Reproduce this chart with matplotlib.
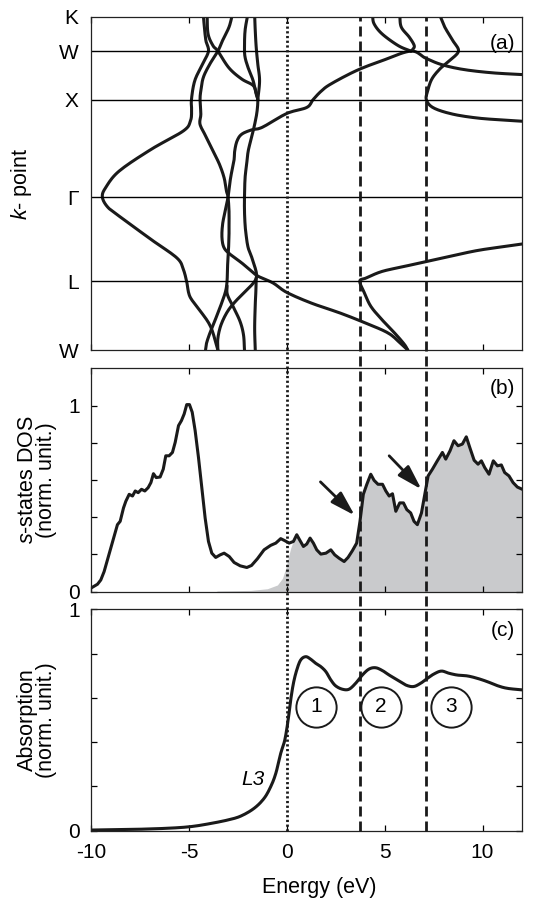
import numpy as np
import matplotlib
matplotlib.use('Agg')
import matplotlib.pyplot as plt
from matplotlib.lines import Line2D
from matplotlib import transforms

plt.rcParams['font.family'] = ['Liberation Sans', 'DejaVu Sans']
plt.rcParams['mathtext.fontset'] = 'custom'
plt.rcParams['mathtext.rm'] = 'Liberation Sans'
plt.rcParams['mathtext.it'] = 'Liberation Sans:italic'

# ---------------- data ----------------
kpt_pos = [0.0, 0.707, 1.573, 2.573, 3.073, 3.427]
kpt_labels = ['W', 'L', '\u0393', 'X', 'W', 'K']

# band strokes (energy in eV, k along path W-L-G-X-W-K)
band1_k = [0.0, 0.24, 0.413, 0.55, 0.70, 0.826, 0.946, 1.135, 1.376, 1.47, 1.573, 1.67, 1.84,
           2.064, 2.253, 2.356, 2.46, 2.573, 2.769, 2.94, 3.073, 3.18, 3.32, 3.44]
band1_e = [-3.52, -3.89, -4.46, -4.95, -5.11, -5.28, -5.61, -6.92, -8.56, -9.15, -9.42, -9.25, -8.56,
           -6.92, -5.28, -4.92, -4.86, -4.87, -4.70, -4.30, -4.00, -4.13, -4.21, -4.26]

band2_k = [0.0, 0.069, 0.172, 0.292, 0.464, 0.60, 0.707, 0.843, 1.014, 1.187, 1.29, 1.427, 1.573,
           1.634, 1.77, 1.91, 2.046, 2.185, 2.32, 2.425, 2.573, 2.666, 2.804, 2.94, 3.073, 3.182, 3.32, 3.44]
band2_e = [-4.15, -4.10, -3.93, -3.69, -3.36, -3.13, -3.05, -3.03, -2.98, -2.95, -2.95, -2.95, -3.0,
           -3.08, -3.20, -3.44, -3.77, -4.10, -4.43, -4.39, -4.43, -4.39, -4.26, -3.93, -3.52, -3.28, -2.95, -2.79]

band3_k = [0.0, 0.06, 0.172, 0.275, 0.379, 0.482, 0.592, 0.689, 0.757, 0.81, 0.895, 0.98, 1.05, 1.153,
           1.29, 1.427, 1.573, 1.77, 1.943, 2.046, 2.15, 2.219, 2.263, 2.29, 2.432, 2.494, 2.573, 2.66,
           2.735, 2.873, 2.975, 3.073, 3.0, 2.935, 2.885, 2.85, 2.83]
band3_e = [6.18, 5.85, 5.20, 4.05, 2.74, 1.26, 0.0, -0.70, -1.45, -1.80, -2.30, -2.87, -3.2, -3.31,
           -3.28, -3.15, -3.0, -2.87, -2.70, -2.66, -2.54, -2.30, -1.80, -1.25, 0.0, 1.02, 1.34, 1.75,
           2.25, 3.56, 4.87, 6.34, 7.1, 7.9, 9.0, 10.5, 12.2]

band4_k = [0.0, 0.12, 0.258, 0.395, 0.50, 0.60, 0.74, 0.911, 1.05, 1.187, 1.29, 1.427, 1.573, 1.77,
           1.91, 2.046, 2.185, 2.32, 2.45, 2.573, 2.63, 2.77, 2.9, 3.01, 3.11, 3.285, 3.44]
band4_e = [-3.52, -3.52, -3.36, -3.03, -2.62, -2.13, -1.56, -1.72, -1.97, -2.08, -2.13, -2.16, -2.16,
           -2.13, -2.05, -1.97, -1.80, -1.64, -1.52, -1.48, -1.56, -1.72, -1.97, -2.13, -2.16, -2.13, -2.0]

band5_k = [0.0, 0.224, 0.464, 0.60, 0.74]
band5_e = [-1.61, -1.64, -1.61, -1.58, -1.56]

band6_k = [0.0, 0.155, 0.29, 0.43, 0.568, 0.66]
band6_e = [-2.16, -2.21, -2.38, -2.70, -3.03, -3.05]

band7_k = [3.44, 3.25, 3.13, 3.073, 2.9, 2.786, 2.72, 2.64, 2.573]
band7_e = [-4.07, -4.02, -3.77, -3.52, -2.95, -2.30, -1.72, -1.56, -1.48]

band8_k = [2.573, 2.77, 2.94, 3.11, 3.285, 3.44]
band8_e = [-1.48, -1.39, -1.48, -1.56, -1.61, -1.64]

band9_k = [0.0, 0.06, 0.172, 0.31, 0.447, 0.585, 0.707, 0.74, 0.808, 0.86, 0.911, 0.97, 1.025, 1.066, 1.095]
band9_e = [6.18, 6.0, 5.52, 4.87, 4.30, 3.97, 3.73, 4.05, 4.87, 6.02, 7.16, 8.48, 9.79, 11.18, 12.2]

band10_k = [3.44, 3.354, 3.25, 3.13, 3.073]
band10_e = [4.38, 4.46, 4.87, 5.69, 6.34]

band11_k = [3.44, 3.32, 3.216, 3.13, 3.09, 3.073]
band11_e = [5.77, 5.85, 6.26, 6.51, 6.43, 6.34]

band12_k = [3.44, 3.32, 3.182, 3.073, 2.975, 2.89, 2.786, 2.666, 2.573, 2.49, 2.425, 2.384, 2.363, 2.35]
band12_e = [7.82, 8.07, 8.48, 8.77, 8.31, 7.82, 7.41, 7.2, 7.13, 7.49, 8.48, 9.79, 11.18, 12.2]

# s-states DOS
dos_e = [-9.96, -9.67, -9.50, -9.33, -9.16, -8.99, -8.82, -8.65, -8.51, -8.34, -8.22, -8.05, -7.88,
         -7.74, -7.59, -7.42, -7.25, -7.08, -6.94, -6.81, -6.67, -6.47, -6.31, -6.18, -6.01, -5.84,
         -5.70, -5.53, -5.38, -5.24, -5.11, -4.97, -4.83, -4.68, -4.51, -4.34, -4.17, -4.0, -3.83,
         -3.63, -3.40, -3.20, -2.94, -2.69, -2.38, -2.04, -1.80, -1.50, -1.16, -0.82, -0.56, -0.31,
         -0.10, 0.12, 0.34, 0.51, 0.68, 0.85, 1.02, 1.19, 1.36, 1.53, 1.74, 2.0, 2.25, 2.45, 2.67,
         2.93, 3.13, 3.35, 3.57, 3.74, 3.91, 4.09, 4.29, 4.46, 4.66, 4.89, 5.06, 5.23, 5.40, 5.57,
         5.77, 5.96, 6.13, 6.33, 6.50, 6.67, 6.88, 7.05, 7.22, 7.44, 7.69, 7.95, 8.12, 8.34, 8.54,
         8.75, 8.97, 9.17, 9.36, 9.57, 9.77, 9.94, 10.11, 10.33, 10.55, 10.76, 10.96, 11.13, 11.35,
         11.56, 11.78, 12.03]
dos_val = [0.022, 0.040, 0.063, 0.108, 0.171, 0.234, 0.297, 0.360, 0.378, 0.450, 0.486, 0.523, 0.514,
           0.541, 0.532, 0.550, 0.541, 0.559, 0.586, 0.634, 0.613, 0.616, 0.658, 0.730, 0.730, 0.748,
           0.802, 0.892, 0.919, 0.955, 1.005, 1.005, 0.964, 0.865, 0.721, 0.559, 0.396, 0.270, 0.207,
           0.184, 0.198, 0.207, 0.189, 0.157, 0.139, 0.130, 0.141, 0.177, 0.225, 0.249, 0.261, 0.285,
           0.274, 0.261, 0.270, 0.306, 0.274, 0.243, 0.256, 0.288, 0.261, 0.225, 0.202, 0.207, 0.225,
           0.198, 0.180, 0.162, 0.184, 0.220, 0.261, 0.378, 0.523, 0.577, 0.631, 0.598, 0.577, 0.577,
           0.541, 0.514, 0.526, 0.432, 0.477, 0.477, 0.441, 0.423, 0.378, 0.360, 0.423, 0.523, 0.622,
           0.658, 0.703, 0.748, 0.712, 0.757, 0.811, 0.784, 0.793, 0.832, 0.771, 0.706, 0.685, 0.703,
           0.667, 0.631, 0.703, 0.676, 0.681, 0.640, 0.622, 0.586, 0.562, 0.550]

# upper edge of the grey (unoccupied) area below the Fermi level
edge_e = [-3.54, -1.84, -0.99, -0.48, -0.22, -0.05, 0.07, 0.20, 0.29]
edge_val = [0.004, 0.007, 0.016, 0.036, 0.072, 0.126, 0.18, 0.234, 0.26]

arrow_tail = [(1.72, 0.59), (5.23, 0.73)]
arrow_head = [(3.47, 0.41), (6.88, 0.55)]

# absorption spectrum
abs_e = [-9.96, -7.80, -6.09, -4.95, -4.05, -3.03, -2.35, -1.67, -1.16, -0.82, -0.56, -0.31, -0.10,
         0.07, 0.20, 0.34, 0.51, 0.71, 0.97, 1.23, 1.48, 1.74, 2.0, 2.25, 2.5, 2.84, 3.18, 3.52, 3.86,
         4.20, 4.54, 4.89, 5.23, 5.65, 6.08, 6.47, 6.84, 7.18, 7.52, 7.90, 8.29, 8.71, 9.23, 9.74,
         10.25, 10.76, 11.27, 12.03]
abs_val = [0.003, 0.006, 0.011, 0.018, 0.030, 0.048, 0.066, 0.101, 0.146, 0.199, 0.259, 0.349, 0.410,
           0.500, 0.590, 0.666, 0.726, 0.771, 0.786, 0.774, 0.756, 0.741, 0.718, 0.681, 0.654, 0.639,
           0.639, 0.666, 0.703, 0.730, 0.736, 0.723, 0.703, 0.681, 0.658, 0.651, 0.666, 0.688, 0.708,
           0.721, 0.711, 0.703, 0.699, 0.688, 0.673, 0.655, 0.643, 0.636]

peak_e = [1.48, 4.80, 8.37]
peak_y = [0.56, 0.56, 0.56]
peak_labels = ['1', '2', '3']

fermi_e = 0.0
edge_lines = [3.73, 7.13]


def smooth(x, y, n=10):
    p = np.column_stack([x, y]).astype(float)
    p = np.vstack([2 * p[0] - p[1], p, 2 * p[-1] - p[-2]])
    t = np.linspace(0, 1, n, endpoint=False)[:, None]
    out = []
    for i in range(1, len(p) - 2):
        p0, p1, p2, p3 = p[i - 1], p[i], p[i + 1], p[i + 2]
        out.append(0.5 * (2 * p1 + (-p0 + p2) * t + (2 * p0 - 5 * p1 + 4 * p2 - p3) * t ** 2
                          + (-p0 + 3 * p1 - 3 * p2 + p3) * t ** 3))
    out.append(p[-2][None])
    out = np.vstack(out)
    return out[:, 0], out[:, 1]


W, H = 544, 901
fig = plt.figure(figsize=(W / 100, H / 100), dpi=100)
left, right = 91 / W, 521.7 / W
ax_a = fig.add_axes([left, 1 - 350 / H, right - left, (350 - 16.7) / H])
ax_b = fig.add_axes([left, 1 - 591.7 / H, right - left, (591.7 - 368.3) / H])
ax_c = fig.add_axes([left, 1 - 830.7 / H, right - left, (830.7 - 609.3) / H])

lw = 2.2
FS = 15

for ax in (ax_a, ax_b, ax_c):
    ax.set_xlim(-10, 12)
    ax.set_xticks([-10, -5, 0, 5, 10])
    ax.tick_params(direction='in', top=True, right=True, length=4, width=0.9,
                   labelsize=FS, pad=8)
    for s in ax.spines.values():
        s.set_linewidth(0.9)
        s.set_color('#222222')

# ---------------- (a) band structure ----------------
bands = [(band1_e, band1_k), (band2_e, band2_k), (band3_e, band3_k), (band4_e, band4_k),
         (band5_e, band5_k), (band6_e, band6_k), (band7_e, band7_k), (band8_e, band8_k),
         (band9_e, band9_k), (band10_e, band10_k), (band11_e, band11_k), (band12_e, band12_k)]
for be, bk in bands:
    xs, ys = smooth(be, bk)
    ax_a.plot(xs, ys, color='#1a1a1a', lw=lw, solid_capstyle='round')
for kp in kpt_pos[1:-1]:
    ax_a.axhline(kp, color='black', lw=1.0)
ax_a.set_ylim(kpt_pos[0], kpt_pos[-1])
ax_a.set_yticks(kpt_pos)
ax_a.set_yticklabels(kpt_labels)
ax_a.tick_params(axis='y', length=0, pad=9)
ax_a.set_xticklabels([])
ax_a.set_ylabel('$k$- point', fontsize=FS + 0.5)
ax_a.yaxis.set_label_coords(-0.133, 0.5)
ax_a.text(0.985, 0.92, '(a)', transform=ax_a.transAxes, ha='right', va='center', fontsize=FS)

# ---------------- (b) s-DOS ----------------
fe = np.union1d(dos_e, edge_e)
dos_i = np.interp(fe, dos_e, dos_val)
edge_i = np.interp(fe, edge_e, edge_val, left=0.0, right=np.inf)
ax_b.fill_between(fe, 0, np.minimum(dos_i, edge_i), color='#c9cacc', lw=0)
ax_b.plot(dos_e, dos_val, color='#1a1a1a', lw=lw)
for (x0, y0), (x1, y1) in zip(arrow_tail, arrow_head):
    ax_b.annotate('', xy=(x1, y1), xytext=(x0, y0),
                  arrowprops=dict(arrowstyle='-|>,head_length=1.0,head_width=0.3', lw=2,
                                  color='#1a1a1a', mutation_scale=15, shrinkA=0, shrinkB=0))
ax_b.set_ylim(0, 1.2)
ax_b.set_yticks([0, 0.2, 0.4, 0.6, 0.8, 1.0])
ax_b.set_yticklabels(['0', '', '', '', '', '1'])
ax_b.set_xticklabels([])
ax_b.set_ylabel('$s$-states DOS\n(norm. unit.)', fontsize=FS + 0.5, linespacing=0.9)
ax_b.yaxis.set_label_coords(-0.078, 0.5)
ax_b.text(0.985, 0.91, '(b)', transform=ax_b.transAxes, ha='right', va='center', fontsize=FS)

# ---------------- (c) absorption ----------------
xs, ys = smooth(abs_e, abs_val)
ax_c.plot(xs, ys, color='#1a1a1a', lw=lw)
ax_c.plot(peak_e, peak_y, 'o', ms=29, mfc='none', mec='#1a1a1a', mew=1.4)
for e, y, lab in zip(peak_e, peak_y, peak_labels):
    ax_c.text(e, y, lab, ha='center', va='center', fontsize=FS)
ax_c.text(-1.75, 0.233, 'L3', fontstyle='italic', ha='center', va='center', fontsize=FS)
ax_c.set_ylim(0, 1)
ax_c.set_yticks([0, 0.2, 0.4, 0.6, 0.8, 1.0])
ax_c.set_yticklabels(['0', '', '', '', '', '1'])
ax_c.set_xticklabels(['-10', '-5', '0', '5', '10'])
ax_c.tick_params(axis='x', pad=9)
ax_c.set_xlabel('Energy (eV)', fontsize=FS + 0.5)
ax_c.xaxis.set_label_coords(0.53, -0.21)
ax_c.set_ylabel('Absorption\n(norm. unit.)', fontsize=FS + 0.5, linespacing=0.9)
ax_c.yaxis.set_label_coords(-0.078, 0.5)
ax_c.text(0.985, 0.905, '(c)', transform=ax_c.transAxes, ha='right', va='center', fontsize=FS)

# ---------------- vertical guide lines through all panels ----------------
trans = transforms.blended_transform_factory(ax_c.transData, fig.transFigure)
y_bot, y_top = 1 - 830.7 / H, 1 - 16.7 / H
fig.add_artist(Line2D([fermi_e, fermi_e], [y_bot, y_top], transform=trans, color='#1a1a1a',
                      lw=2.0, linestyle=(0, (0.8, 0.9))))
for e in edge_lines:
    fig.add_artist(Line2D([e, e], [y_bot, y_top], transform=trans, color='#1a1a1a',
                          lw=2.0, linestyle=(0, (3.6, 1.8))))

fig.savefig('out.png', dpi=100)
